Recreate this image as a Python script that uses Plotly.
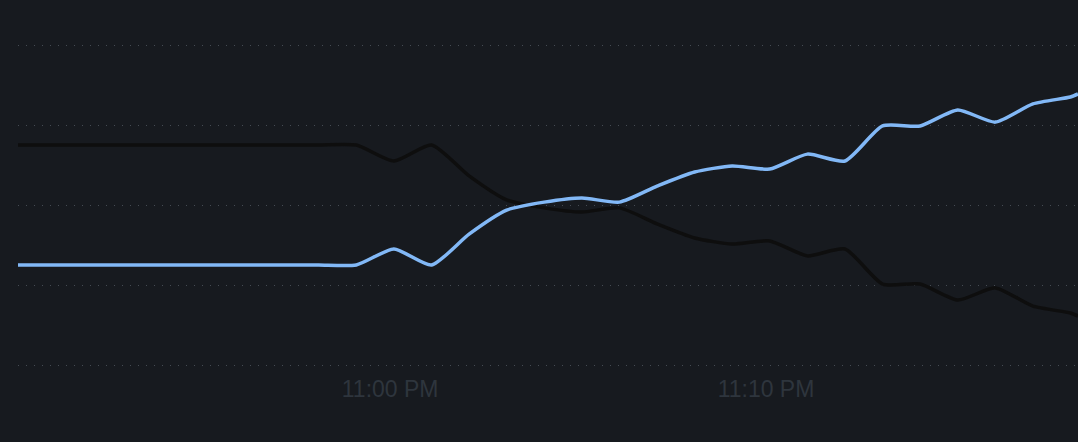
import plotly.graph_objects as go
import pandas as pd

# Sample times (one per minute, plus the latest partial sample)
times = list(pd.date_range("2024-01-01 22:50:06", "2024-01-01 23:18:06", freq="1min").strftime("%Y-%m-%d %H:%M:%S")) + ["2024-01-01 23:18:18"]

# Share values (percent)
blue_values = [31.25, 31.25, 31.25, 31.25, 31.25, 31.25, 31.25, 31.25, 31.25, 31.25,
               36.25, 31.25, 40.9, 48.4, 50.9, 52.2, 50.9, 55.9, 60.3, 62.2,
               61.25, 65.9, 63.75, 74.7, 74.7, 79.7, 75.9, 81.6, 83.75, 84.7]
black_values = [68.75, 68.75, 68.75, 68.75, 68.75, 68.75, 68.75, 68.75, 68.75, 68.75,
                63.75, 68.75, 59.1, 51.6, 49.1, 47.8, 49.1, 44.1, 39.7, 37.8,
                38.75, 34.1, 36.25, 25.3, 25.3, 20.3, 24.1, 18.4, 16.25, 15.3]

tick_vals = ["2024-01-01 23:00:00", "2024-01-01 23:10:00"]
tick_text = ["11:00 PM", "11:10 PM"]
grid_vals = [0, 25, 50, 75, 100]

BG = "#171a1f"

fig = go.Figure()
fig.add_trace(go.Scatter(x=times, y=black_values, mode="lines",
                         line=dict(color="#0e0e0e", width=3.5, shape="spline", smoothing=0.6),
                         hoverinfo="skip", showlegend=False))
fig.add_trace(go.Scatter(x=times, y=blue_values, mode="lines",
                         line=dict(color="#82b8f6", width=3.5, shape="spline", smoothing=0.6),
                         hoverinfo="skip", showlegend=False))

fig.update_layout(
    width=1078, height=442,
    margin=dict(l=18, r=0, t=40, b=72),
    paper_bgcolor=BG, plot_bgcolor=BG,
    font=dict(family="Liberation Sans, Arial, sans-serif"),
    xaxis=dict(
        type="date",
        range=[times[0], times[-1]],
        tickvals=tick_vals, ticktext=tick_text,
        showgrid=False, zeroline=False, showline=False, ticks="",
        tickfont=dict(size=23, color="#2e353d"),
        ticklabelstandoff=3,
    ),
    yaxis=dict(
        range=[-1.5625, 101.5625],
        tickvals=grid_vals, showticklabels=False,
        showgrid=True, gridcolor="#454b53", gridwidth=1, griddash="1px,7px",
        zeroline=False, showline=False, ticks="",
    ),
)

fig.write_html("out.html")
